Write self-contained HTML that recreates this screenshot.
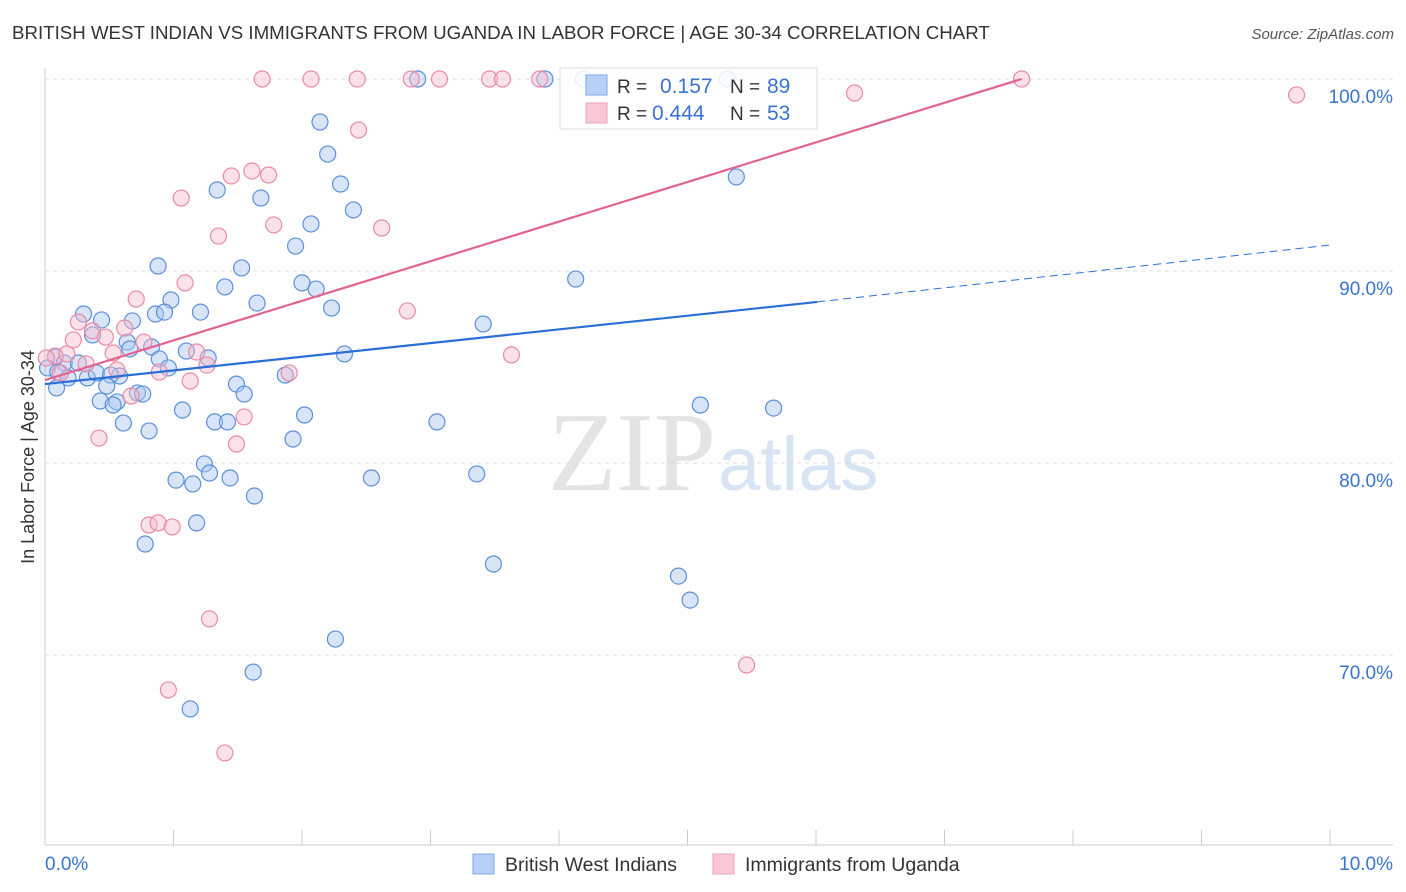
<!DOCTYPE html>
<html><head><meta charset="utf-8"><style>
body{margin:0;background:#fff;font-family:"Liberation Sans",sans-serif;}
svg{display:block}
</style></head><body>
<svg id="chart" width="1406" height="892">
<text x="12" y="39" font-size="18.7" fill="#333">BRITISH WEST INDIAN VS IMMIGRANTS FROM UGANDA IN LABOR FORCE | AGE 30-34 CORRELATION CHART</text>
<text x="1394" y="39" font-size="15" fill="#555" font-style="italic" text-anchor="end">Source: ZipAtlas.com</text>
<text x="716" y="490" font-size="112" fill="#e4e4e4" text-anchor="end" font-family="Liberation Serif, serif">ZIP</text>
<text x="718" y="490" font-size="76" fill="#d8e4f3">atlas</text>
<text x="34" y="457" font-size="18" fill="#333" text-anchor="middle" transform="rotate(-90 34 457)">In Labor Force | Age 30-34</text>
<g id="grid"></g><g id="axes"></g><g id="pts"></g><g id="lines"></g>
<g>
<rect x="560" y="68" width="257" height="61" fill="#fff" fill-opacity="0.85" stroke="#ddd"/>
<rect x="586" y="75" width="21" height="20" fill="#b7d0f5" stroke="#7fa8e6"/>
<text x="617" y="93" font-size="19" fill="#333">R = </text><text x="660" y="93" font-size="21" fill="#3a74d0">0.157</text>
<text x="730" y="93" font-size="19" fill="#333">N = </text><text x="767" y="93" font-size="21" fill="#3a74d0">89</text>
<rect x="586" y="103" width="21" height="20" fill="#f8c8d6" stroke="#eba3b9"/>
<text x="617" y="120" font-size="19" fill="#333">R = </text><text x="652" y="120" font-size="21" fill="#3a74d0">0.444</text>
<text x="730" y="120" font-size="19" fill="#333">N = </text><text x="767" y="120" font-size="21" fill="#3a74d0">53</text>
</g>
<g>
<rect x="473" y="854" width="21" height="20" fill="#b7d0f5" stroke="#7fa8e6"/>
<text x="505" y="871" font-size="19.5" fill="#333">British West Indians</text>
<rect x="713" y="854" width="21" height="20" fill="#f8c8d6" stroke="#eba3b9"/>
<text x="745" y="871" font-size="19.5" fill="#333">Immigrants from Uganda</text>
</g>
</svg>
<script>
const blueX=[2.90,3.89,4.19,5.31,2.14,2.20,2.30,1.34,1.68,2.40,2.07,5.38,1.95,0.88,1.53,4.13,2.00,2.11,1.40,0.98,1.65,2.23,0.30,0.86,0.93,1.21,0.44,0.68,0.37,3.41,0.64,0.83,0.66,1.10,0.89,1.27,2.33,0.08,0.15,0.26,0.02,0.10,0.18,0.33,0.40,0.58,0.51,0.48,0.09,1.49,1.87,0.96,0.72,0.76,1.55,0.43,0.56,0.53,1.07,2.02,0.61,1.32,1.42,0.81,3.05,5.10,5.67,1.93,1.24,1.28,1.02,1.15,1.44,2.54,3.36,1.63,1.18,0.78,3.49,4.93,5.02,2.26,1.62,1.13];
const blueY=[100,100,100,100,97.76,96.09,94.53,94.22,93.80,93.18,92.45,94.90,91.30,90.26,90.16,89.58,89.38,89.06,89.17,88.49,88.33,88.07,87.76,87.76,87.86,87.86,87.45,87.40,86.67,87.24,86.30,86.04,85.94,85.83,85.42,85.47,85.68,85.52,85.21,85.21,84.95,84.74,84.43,84.43,84.69,84.53,84.58,84.01,83.91,84.11,84.58,84.95,83.65,83.59,83.59,83.23,83.18,83.02,82.76,82.50,82.08,82.14,82.14,81.67,82.14,83.02,82.86,81.25,79.95,79.48,79.11,78.91,79.22,79.22,79.43,78.28,76.88,75.78,74.74,74.11,72.86,70.83,69.11,67.19];
const pinkX=[1.69,2.07,2.43,2.85,3.07,3.46,3.56,3.85,7.60,6.30,9.74,2.44,1.61,1.45,1.74,1.06,1.78,2.62,1.35,1.09,0.71,2.82,0.26,0.37,0.62,0.22,0.47,0.77,0.53,0.08,0.17,0.32,0.01,0.12,0.56,0.89,1.18,1.26,3.63,1.13,1.90,0.67,1.55,1.49,0.42,0.81,0.88,0.99,1.28,5.46,0.96,1.40];
const pinkY=[100,100,100,100,100,100,100,100,100,99.27,99.17,97.34,95.21,94.95,95.00,93.80,92.40,92.24,91.82,89.38,88.54,87.92,87.34,86.88,87.03,86.41,86.56,86.30,85.73,85.57,85.68,85.16,85.47,84.69,84.84,84.74,85.78,85.10,85.63,84.27,84.69,83.49,82.40,80.99,81.30,76.77,76.88,76.67,71.88,69.48,68.18,64.90];
const blueTrend=[0,84.11,6.01,88.39,10,91.35];
const pinkTrend=[0,84.32,7.60,100];
const yTicks=[100,90,80,70];
const xTickVals=[0,1,2,3,4,5,6,7,8,9,10];
const NS="http://www.w3.org/2000/svg";
const sx=v=>45+v*128.5, sy=v=>79+(100-v)*19.2;
function mk(p,t,a){const e=document.createElementNS(NS,t);for(const k in a)e.setAttribute(k,a[k]);p.appendChild(e);return e;}
const grid=document.getElementById('grid'),axes=document.getElementById('axes'),pts=document.getElementById('pts'),lines=document.getElementById('lines');
yTicks.forEach(v=>{
 const l=mk(grid,'line',{x1:45,x2:1393,y1:sy(v),y2:sy(v),stroke:'#ddd','stroke-dasharray':'4 4'});
 
 
 const t=mk(grid,'text',{x:1393,y:sy(v)+24,'font-size':19,fill:'#3a74d0','text-anchor':'end'});
 t.textContent=v.toFixed(1)+'%';
 
 
});
const ya=mk(axes,'line',{x1:45,x2:45,y1:68,y2:845,stroke:'#ccc'});


const xa=mk(axes,'line',{x1:45,x2:1393,y1:845,y2:845,stroke:'#ccc'});


xTickVals.forEach(v=>{
 const t=mk(axes,'line',{x1:sx(v),x2:sx(v),y1:830,y2:845,stroke:'#ccc'});
 
 
});
[[0,'0.0%','start',45],[10,'10.0%','end',1393]].forEach(([v,s,a,x])=>{
 const t=mk(axes,'text',{x:x,y:870,'font-size':19,fill:'#3a74d0','text-anchor':a});
 t.textContent=s;
 
 
});
function dots(X,Y,fill,stroke,name){X.forEach((x,i)=>{
 const c=mk(pts,'circle',{cx:sx(x),cy:sy(Y[i]),r:8,fill:fill,'fill-opacity':0.45,stroke:stroke,'stroke-width':1.2});
 
 
});}
dots(blueX,blueY,'#a9c6f2','#5b8fdc','point-british-west-indian');
dots(pinkX,pinkY,'#f6bccd','#e98aa8','point-uganda');
const b1=mk(lines,'line',{x1:sx(blueTrend[0]),y1:sy(blueTrend[1]),x2:sx(blueTrend[2]),y2:sy(blueTrend[3]),stroke:'#2a6fd6','stroke-width':2.2});


const b2=mk(lines,'line',{x1:sx(blueTrend[2]),y1:sy(blueTrend[3]),x2:sx(blueTrend[4]),y2:sy(blueTrend[5]),stroke:'#2a6fd6','stroke-width':1,'stroke-dasharray':'8 5'});


const p1=mk(lines,'line',{x1:sx(pinkTrend[0]),y1:sy(pinkTrend[1]),x2:sx(pinkTrend[2]),y2:sy(pinkTrend[3]),stroke:'#e3638f','stroke-width':2.2});


</script>
</body></html>
